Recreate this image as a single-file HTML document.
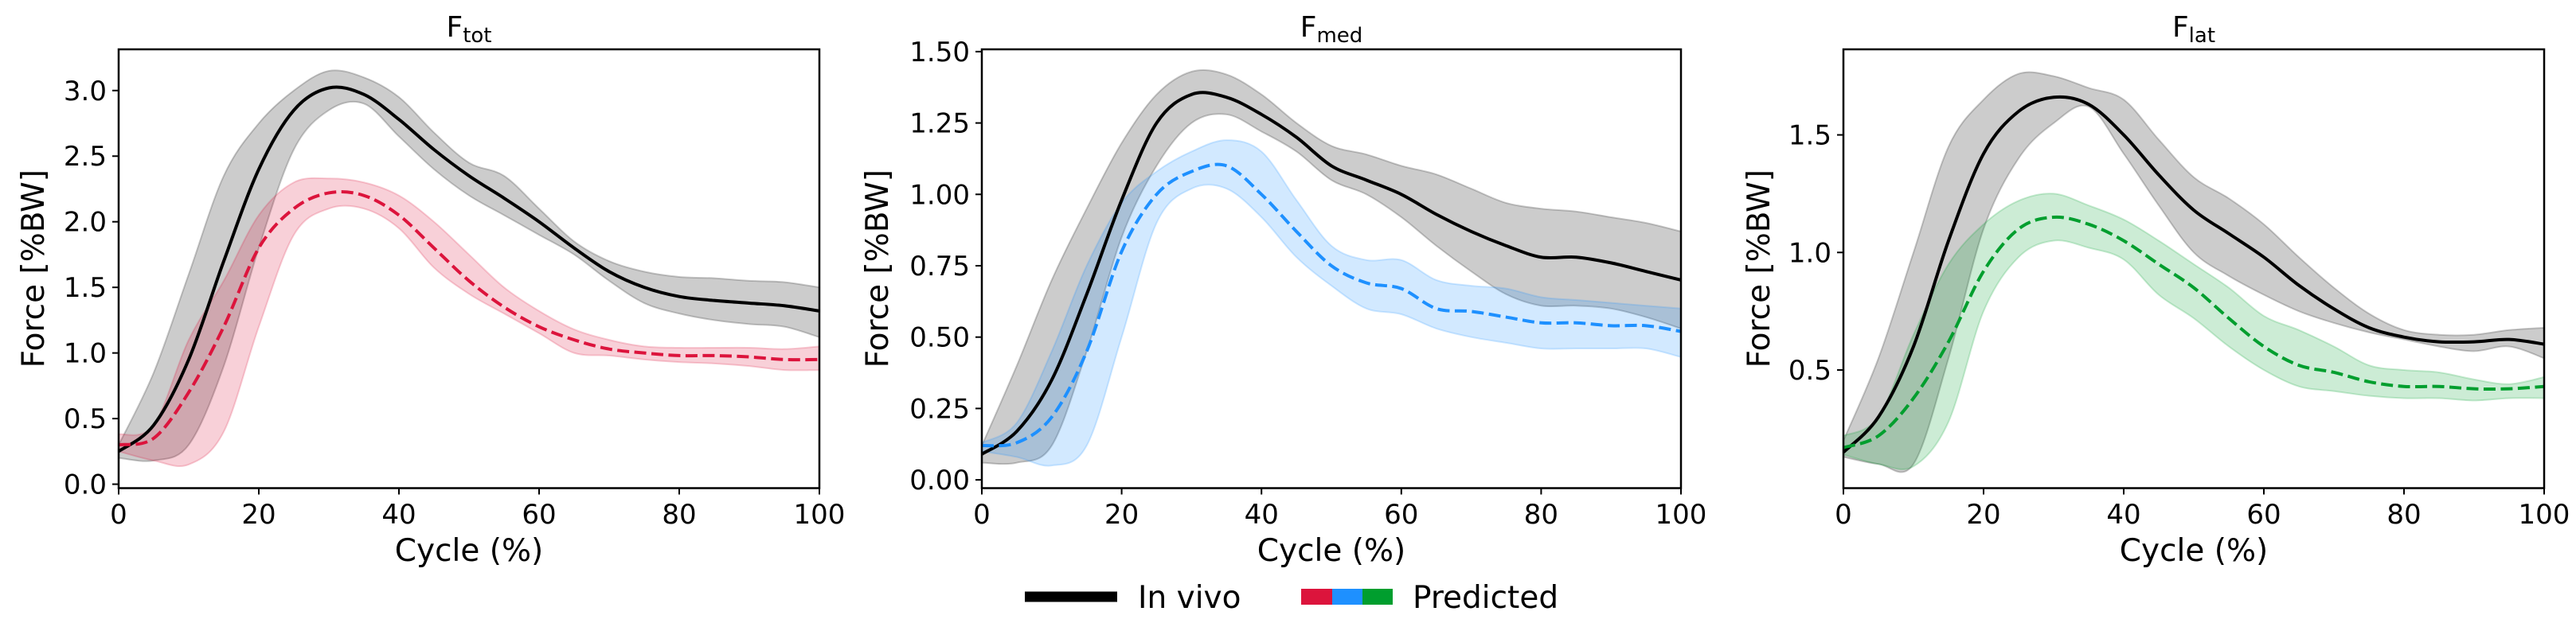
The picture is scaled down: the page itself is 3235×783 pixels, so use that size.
<!DOCTYPE html>
<html><head><meta charset="utf-8"><style>
body{margin:0;background:#fff;}
svg{display:block;font-family:"DejaVu Sans","Liberation Sans",sans-serif;}
</style></head><body>
<svg id="fig" width="3235" height="783" viewBox="0 0 3235 783" xmlns="http://www.w3.org/2000/svg">
<g>
<line x1="1287" y1="750" x2="1403" y2="750" stroke="#000" stroke-width="13"/>
<text x="1429" y="764" font-size="39">In vivo</text>
<rect x="1634" y="740" width="39" height="20" fill="#dc143c"/>
<rect x="1673" y="740" width="38" height="20" fill="#1e90ff"/>
<rect x="1711" y="740" width="38" height="20" fill="#009e2e"/>
<text x="1774" y="764" font-size="39">Predicted</text>
</g>
</svg>
<script>
const xs=[0,5,10,15,20,25,30,35,40,45,50,55,60,65,70,75,80,85,90,95,100];
// F_tot
const totMean=[0.25,0.45,0.95,1.7,2.4,2.85,3.02,2.97,2.78,2.55,2.35,2.18,2.0,1.8,1.62,1.5,1.43,1.4,1.38,1.36,1.32];
const totLo=[0.2,0.18,0.3,0.9,1.8,2.55,2.85,2.9,2.65,2.4,2.2,2.05,1.9,1.75,1.55,1.38,1.3,1.25,1.22,1.2,1.12];
const totHi=[0.3,0.85,1.6,2.35,2.75,3.0,3.15,3.1,2.95,2.68,2.45,2.35,2.1,1.85,1.7,1.62,1.58,1.57,1.55,1.54,1.5];
const totPred=[0.3,0.35,0.7,1.2,1.8,2.1,2.22,2.2,2.05,1.8,1.55,1.35,1.2,1.1,1.03,1.0,0.98,0.98,0.97,0.95,0.95];
const totPredLo=[0.25,0.18,0.15,0.4,1.2,1.9,2.1,2.1,1.95,1.65,1.45,1.3,1.15,1.0,0.98,0.95,0.93,0.92,0.9,0.87,0.87];
const totPredHi=[0.38,0.45,1.1,1.55,2.05,2.3,2.33,2.3,2.2,2.0,1.75,1.5,1.32,1.18,1.1,1.05,1.04,1.04,1.04,1.03,1.05];
const totTicks=[0,0.5,1.0,1.5,2.0,2.5,3.0];
const totTickLabels=["0.0","0.5","1.0","1.5","2.0","2.5","3.0"];
// F_med
const medMean=[0.09,0.17,0.35,0.65,0.98,1.25,1.35,1.34,1.28,1.2,1.1,1.05,1.0,0.93,0.87,0.82,0.78,0.78,0.76,0.73,0.7];
const medLo=[0.06,0.06,0.12,0.45,0.85,1.1,1.25,1.28,1.22,1.15,1.05,1.0,0.92,0.82,0.73,0.65,0.61,0.61,0.6,0.57,0.53];
const medHi=[0.12,0.4,0.7,0.95,1.18,1.35,1.43,1.42,1.35,1.25,1.17,1.14,1.1,1.07,1.02,0.97,0.95,0.94,0.92,0.9,0.87];
const medPred=[0.12,0.13,0.22,0.45,0.8,1.0,1.08,1.1,1.0,0.87,0.75,0.69,0.67,0.6,0.59,0.57,0.55,0.55,0.54,0.54,0.52];
const medPredLo=[0.1,0.08,0.05,0.12,0.5,0.9,1.02,1.02,0.92,0.78,0.68,0.6,0.58,0.53,0.5,0.48,0.46,0.46,0.46,0.46,0.43];
const medPredHi=[0.13,0.2,0.45,0.75,0.97,1.08,1.15,1.19,1.15,0.98,0.82,0.77,0.77,0.7,0.68,0.67,0.64,0.63,0.62,0.61,0.6];
const medTicks=[0,0.25,0.5,0.75,1.0,1.25,1.5];
const medTickLabels=["0.00","0.25","0.50","0.75","1.00","1.25","1.50"];
// F_lat
const latMean=[0.15,0.3,0.6,1.05,1.42,1.6,1.66,1.63,1.5,1.33,1.18,1.08,0.98,0.86,0.76,0.68,0.64,0.62,0.62,0.63,0.61];
const latLo=[0.13,0.1,0.1,0.55,1.1,1.4,1.55,1.62,1.42,1.2,1.0,0.9,0.82,0.75,0.7,0.66,0.63,0.6,0.58,0.6,0.55];
const latHi=[0.2,0.55,1.0,1.45,1.65,1.76,1.75,1.7,1.65,1.48,1.32,1.23,1.12,0.98,0.85,0.74,0.67,0.65,0.65,0.67,0.68];
const latPred=[0.17,0.22,0.38,0.62,0.92,1.1,1.15,1.12,1.05,0.95,0.85,0.72,0.6,0.52,0.49,0.45,0.43,0.43,0.42,0.42,0.43];
const latPredLo=[0.14,0.1,0.09,0.28,0.75,0.98,1.05,1.02,0.97,0.82,0.72,0.6,0.5,0.43,0.41,0.39,0.38,0.38,0.37,0.38,0.38];
const latPredHi=[0.22,0.3,0.65,0.95,1.12,1.22,1.25,1.2,1.14,1.05,0.95,0.85,0.73,0.67,0.6,0.52,0.5,0.49,0.46,0.44,0.47];
const latTicks=[0.5,1.0,1.5];
const latTickLabels=["0.5","1.0","1.5"];
const xTicks=[0,20,40,60,80,100];

const NS="http://www.w3.org/2000/svg";
const svg=document.getElementById('fig');
function mk(tag,attrs,parent){const e=document.createElementNS(NS,tag);for(const k in attrs)e.setAttribute(k,attrs[k]);(parent||svg).appendChild(e);return e;}
function smooth(pts){let d="M"+pts[0][0]+","+pts[0][1];for(let i=0;i<pts.length-1;i++){const p0=pts[Math.max(0,i-1)],p1=pts[i],p2=pts[i+1],p3=pts[Math.min(pts.length-1,i+2)];const c1=[p1[0]+(p2[0]-p0[0])/6,p1[1]+(p2[1]-p0[1])/6],c2=[p2[0]-(p3[0]-p1[0])/6,p2[1]-(p3[1]-p1[1])/6];d+=" C"+c1[0]+","+c1[1]+" "+c2[0]+","+c2[1]+" "+p2[0]+","+p2[1];}return d;}

const panels=[
 {key:'tot',sub:'tot',L:149,R:1029,ymin:-0.03,ymax:3.314,mean:totMean,lo:totLo,hi:totHi,pm:totPred,plo:totPredLo,phi:totPredHi,col:'#dc143c',ticks:totTicks,tl:totTickLabels,ylx:42},
 {key:'med',sub:'med',L:1233,R:2111,ymin:-0.029,ymax:1.508,mean:medMean,lo:medLo,hi:medHi,pm:medPred,plo:medPredLo,phi:medPredHi,col:'#1e90ff',ticks:medTicks,tl:medTickLabels,ylx:1102},
 {key:'lat',sub:'lat',L:2315,R:3195,ymin:-0.0025,ymax:1.864,mean:latMean,lo:latLo,hi:latHi,pm:latPred,plo:latPredLo,phi:latPredHi,col:'#009e2e',ticks:latTicks,tl:latTickLabels,ylx:2209}
];
const T=62,B=613.5;
panels.forEach(p=>{
 const g=mk('g',{});
 
 
 const X=v=>p.L+(v/100)*(p.R-p.L);
 const Y=v=>B-(v-p.ymin)/(p.ymax-p.ymin)*(B-T);
 const clipId='clip-'+p.key;
 const cp=mk('clipPath',{id:clipId},g);mk('rect',{x:p.L,y:T,width:p.R-p.L,height:B-T},cp);
 const cg=mk('g',{'clip-path':'url(#'+clipId+')'},g);
 function band(lo,hi,fill,stroke,name){
  const up=xs.map((x,i)=>[X(x),Y(hi[i])]);const dn=xs.map((x,i)=>[X(x),Y(lo[i])]).reverse();
  let d=smooth(up);const d2=smooth(dn);d+=" L"+d2.slice(1)+" Z";
  const e=mk('path',{d:d,fill:fill,'fill-opacity':0.2,stroke:stroke,'stroke-opacity':0.2,'stroke-width':2},cg);
  
  
 }
 band(p.lo,p.hi,'#000','#000','in-vivo-band');
 band(p.plo,p.phi,p.col,p.col,'predicted-band');
 const ml=mk('path',{d:smooth(xs.map((x,i)=>[X(x),Y(p.mean[i])])),fill:'none',stroke:'#000','stroke-width':4},cg);
 
 
 const pl=mk('path',{d:smooth(xs.map((x,i)=>[X(x),Y(p.pm[i])])),fill:'none',stroke:p.col,'stroke-width':4,'stroke-dasharray':'15,6.5'},cg);
 
 
 const fr=mk('rect',{x:p.L,y:T,width:p.R-p.L,height:B-T,fill:'none',stroke:'#000','stroke-width':2.5},g);
 
 
 p.ticks.forEach((t,i)=>{
  const y=Y(t);
  mk('line',{x1:p.L-8,x2:p.L,y1:y,y2:y,stroke:'#000','stroke-width':2},g);
  const tx=mk('text',{x:p.L-15,y:y+12,'font-size':34,'text-anchor':'end'},g);
  tx.textContent=p.tl[i];
  
  
 });
 xTicks.forEach(t=>{
  const x=X(t);
  mk('line',{x1:x,x2:x,y1:B,y2:B+8,stroke:'#000','stroke-width':2},g);
  const tx=mk('text',{x:x,y:658,'font-size':34,'text-anchor':'middle'},g);
  tx.textContent=String(t);
  
  
 });
 const xl=mk('text',{x:(p.L+p.R)/2,y:705,'font-size':39,'text-anchor':'middle'},g);
 xl.textContent='Cycle (%)';
 
 
 const yl=mk('text',{x:0,y:0,'font-size':39,'text-anchor':'middle',transform:'translate('+(p.ylx+13)+','+((T+B)/2)+') rotate(-90)'},g);
 yl.textContent='Force [%BW]';
 
 
 const tt=mk('text',{x:(p.L+p.R)/2,y:46,'font-size':36,'text-anchor':'middle'},g);
 
 
 tt.appendChild(document.createTextNode('F'));
 const ts=mk('tspan',{'font-size':26,dy:7},tt);ts.textContent=p.sub;
});
</script>
</body></html>
